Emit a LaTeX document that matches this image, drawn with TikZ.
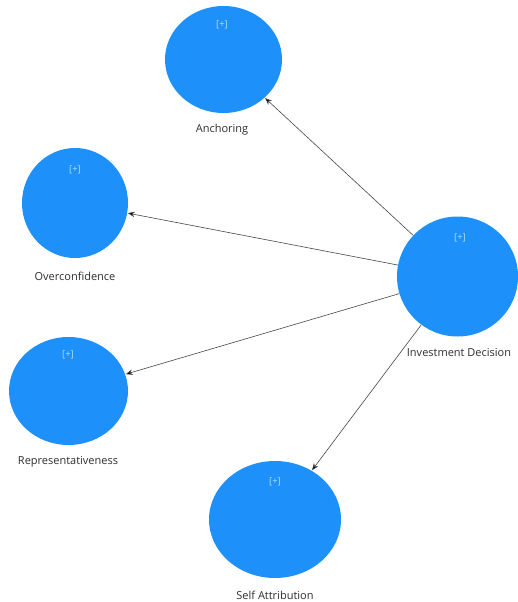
\documentclass[tikz,border=0pt]{standalone}
\usepackage{fontspec}
\setmainfont{Open Sans}
\usetikzlibrary{shapes.geometric,arrows.meta}
\definecolor{lvblue}{RGB}{30,144,250}
\definecolor{plusc}{RGB}{175,220,255}
\definecolor{labc}{RGB}{45,45,45}
\definecolor{arrc}{RGB}{70,70,70}
\tikzset{
  lv/.style={ellipse, fill=lvblue, draw=none, inner sep=0pt},
  plus/.style={text=plusc, font=\fontsize{9.5}{10}\selectfont, inner sep=0pt},
  lab/.style={text=labc, font=\fontsize{11}{12}\selectfont, inner sep=0pt},
  arr/.style={draw=arrc, line width=0.6pt, -{Stealth[length=7pt,width=5.5pt,fill=black]}, shorten >=0.5pt}
}
\begin{document}
\begin{tikzpicture}[x=1pt,y=-1pt]
\useasboundingbox (0,0) rectangle (517,602);
\node[lv, minimum width=117pt, minimum height=107pt] (anch) at (223.5,59.5) {};
\node[lv, minimum width=106pt, minimum height=110pt] (over) at (75,203) {};
\node[lv, minimum width=121pt, minimum height=120pt] (inv) at (457.5,276.5) {};
\node[lv, minimum width=119pt, minimum height=108pt] (repr) at (68.5,391) {};
\node[lv, minimum width=132pt, minimum height=117pt] (self) at (275,519.5) {};
\node[plus] (panch) at (222,25) {[+]};
\node[plus] (pover) at (75,170) {[+]};
\node[plus] (pinv) at (460,238) {[+]};
\node[plus] (prepr) at (68,355) {[+]};
\node[plus] (pself) at (275,482) {[+]};
\node[lab] (lanch) at (222,130) {Anchoring};
\node[lab] (lover) at (75,276) {Overconfidence};
\node[lab] (linv) at (459,353) {Investment Decision};
\node[lab] (lrepr) at (68,462) {Representativeness};
\node[lab] (lself) at (275,595) {Self Attribution};
\draw[arr] (inv) -- (anch);
\draw[arr] (inv) -- (over);
\draw[arr] (inv) -- (repr);
\draw[arr] (inv) -- (self);
\end{tikzpicture}
\end{document}
